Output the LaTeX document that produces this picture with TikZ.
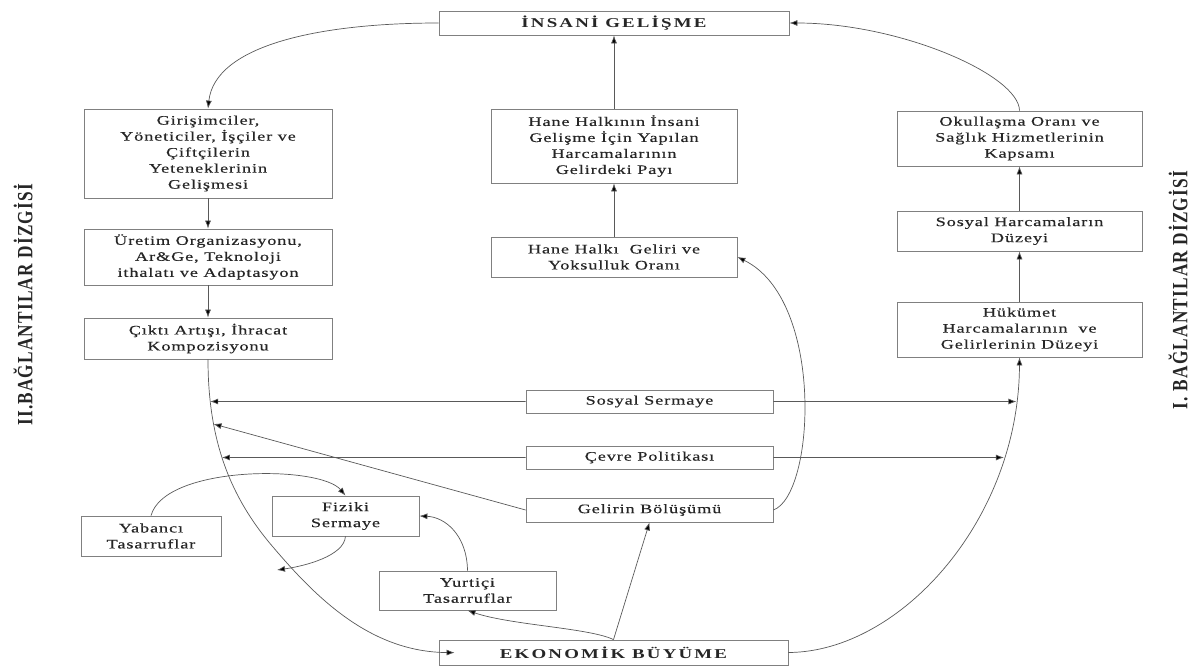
\documentclass[tikz,border=0pt]{standalone}
\usepackage{fontspec}
\setmainfont[FakeStretch=1.4,LetterSpace=7,FakeBold=0.4]{Liberation Serif}
\newfontfamily\titlefont[FakeStretch=1.4,LetterSpace=16]{Liberation Serif}
\newfontfamily\sidefont[FakeStretch=1.15,LetterSpace=8]{Liberation Serif}
\usetikzlibrary{arrows.meta,intersections}
\tikzset{
  box/.style={draw=black!50,line width=0.8pt,inner sep=0pt,align=center,text=black!85,font=\fontsize{13}{16}\selectfont},
  title/.style={font=\titlefont\bfseries\fontsize{13.5}{16}\selectfont},
  side/.style={rotate=90,text=black!85,inner sep=0pt,font=\sidefont\bfseries\fontsize{15}{18}\selectfont},
  conn/.style={draw=black!65,line width=0.7pt,-{Latex[length=8pt,width=6pt,fill=black]}},
}
\begin{document}
\begin{tikzpicture}[x=1pt,y=-1pt]
\useasboundingbox (0,0) rectangle (1192,669);
% nodes
\node[box,title,minimum width=350pt,minimum height=24pt] (ig) at (614,23) {İNSANİ GELİŞME};
\node[box,minimum width=248pt,minimum height=89pt] (b1) at (208,153.5) {Girişimciler,\\Yöneticiler, İşçiler ve\\Çiftçilerin\\Yeteneklerinin\\Gelişmesi};
\node[box,minimum width=248pt,minimum height=56pt] (b2) at (208,257) {Üretim Organizasyonu,\\Ar\&Ge, Teknoloji\\ithalatı ve Adaptasyon};
\node[box,minimum width=248pt,minimum height=41pt] (b3) at (208,338.5) {Çıktı Artışı, İhracat\\Kompozisyonu};
\node[box,minimum width=246pt,minimum height=74pt] (h1) at (614,146) {Hane Halkının İnsani\\Gelişme İçin Yapılan\\Harcamalarının\\Gelirdeki Payı};
\node[box,minimum width=246pt,minimum height=40pt] (h2) at (614,257) {Hane Halkı~ Geliri ve\\Yoksulluk Oranı};
\node[box,minimum width=245pt,minimum height=55pt] (r1) at (1019.5,138.5) {Okullaşma Oranı ve\\Sağlık Hizmetlerinin\\Kapsamı};
\node[box,minimum width=245pt,minimum height=40pt] (r2) at (1019.5,231) {Sosyal Harcamaların\\Düzeyi};
\node[box,minimum width=245pt,minimum height=55pt] (r3) at (1019.5,329.5) {Hükümet\\Harcamalarının~ ve\\Gelirlerinin Düzeyi};
\node[box,minimum width=247pt,minimum height=23pt] (ss) at (649.5,401.5) {Sosyal Sermaye};
\node[box,minimum width=247pt,minimum height=23pt] (cp) at (649.5,457.5) {Çevre Politikası};
\node[box,minimum width=247pt,minimum height=24pt] (gb) at (649.5,510) {Gelirin Bölüşümü};
\node[box,title,minimum width=349pt,minimum height=25pt] (eb) at (613.5,652.5) {EKONOMİK BÜYÜME};
\node[box,minimum width=177pt,minimum height=39pt] (yt) at (467.5,590.5) {Yurtiçi\\Tasarruflar};
\node[box,minimum width=147pt,minimum height=40pt] (fs) at (345.5,516) {Fiziki\\Sermaye};
\node[box,minimum width=140pt,minimum height=40pt] (ya) at (151,536) {Yabancı\\Tasarruflar};
\node[side] (lab2) at (23,305) {\scalebox{1}[1.45]{II.BAĞLANTILAR DİZGİSİ}};
\node[side] (lab1) at (1178,290) {\scalebox{1}[1.45]{I. BAĞLANTILAR DİZGİSİ}};
% connectors
\draw[conn] (ig.west) .. controls (320,23) and (215,45) .. (b1.north);
\draw[conn] (r1.north) .. controls (1019,75) and (900,23) .. (ig.east);
\draw[conn] (b1.south) -- (b2.north);
\draw[conn] (b2.south) -- (b3.north);
\draw[conn] (h1.north) -- (ig.south);
\draw[conn] (h2.north) -- (h1.south);
\draw[conn] (r2.north) -- (r1.south);
\draw[conn] (r3.north) -- (r2.south);
\draw[conn,name path=lc,shorten >=-16pt] (b3.south) .. controls (208,440) and (230,497) .. (273,547) .. controls (315.5,597) and (370,652) .. (eb.west);
\draw[conn,name path=rc] (eb.east) .. controls (900,652) and (1019,520) .. (r3.south);
\path[name path=hss] (0,401.5) -- (1192,401.5);
\path[name path=hcp] (0,457.5) -- (1192,457.5);
\path[name path=hgb] (0,424) -- (400,424);
\path[name intersections={of=lc and hss,by=ssL}];
\path[name intersections={of=rc and hss,by=ssR}];
\path[name intersections={of=lc and hcp,by=cpL}];
\path[name intersections={of=rc and hcp,by=cpR}];
\path[name intersections={of=lc and hgb,by=gbL}];
\draw[conn] (ss.west) -- (ssL);
\draw[conn] (ss.east) -- (ssR);
\draw[conn] (cp.west) -- (cpL);
\draw[conn] (cp.east) -- (cpR);
\draw[conn] (gb.west) -- (gbL);
\draw[conn] (gb.east) .. controls (815,495) and (825,300) .. (h2.east);
\draw[conn] (ya.north) .. controls (165,465) and (320,465) .. (fs.north);
\coordinate (fsx) at (277,570);
\draw[conn] (fs.south) .. controls (344,556) and (305,566) .. (fsx);
\draw[conn] (yt.north) .. controls (467,535) and (445,517) .. (fs.east);
\draw[conn] (eb.north) .. controls (590,628) and (510,625) .. (yt.south);
\draw[conn] (eb.north) -- (gb.south);
\end{tikzpicture}
\end{document}
